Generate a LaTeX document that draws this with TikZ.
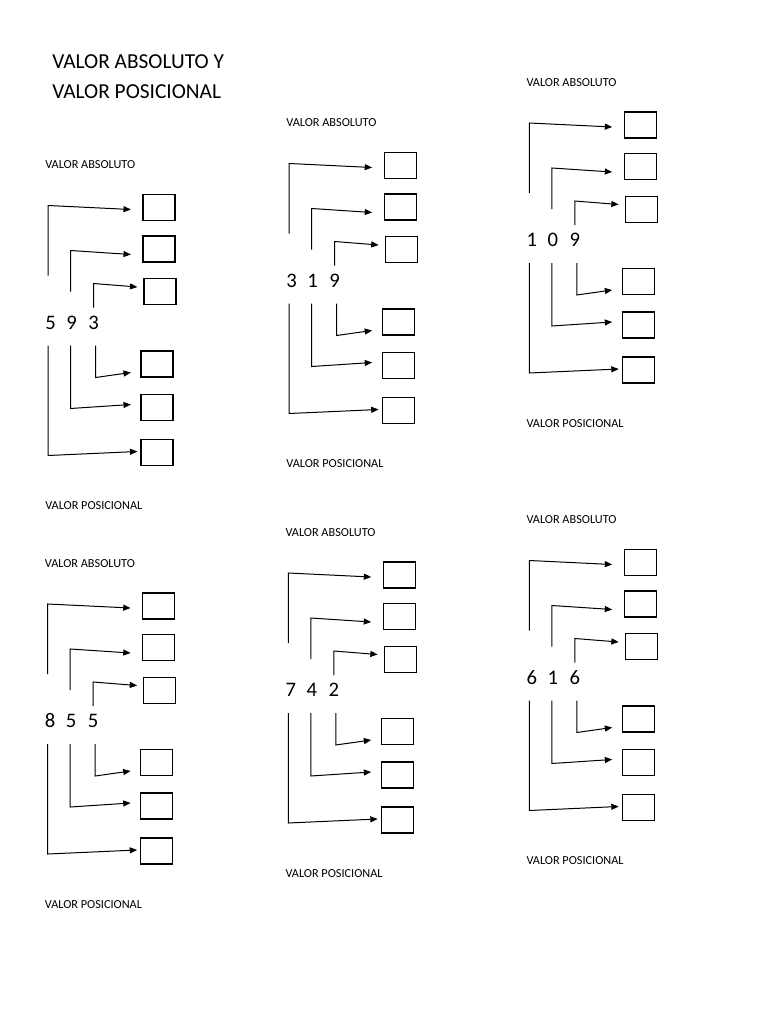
\documentclass[tikz,border=0pt]{standalone}
\usepackage{fontspec}
\setmainfont{Carlito}
\usetikzlibrary{calc,arrows.meta}
\tikzset{
  titulo/.style={anchor=base west, inner sep=0pt, font=\fontsize{16}{19}\selectfont},
  etiqueta/.style={anchor=base west, inner sep=0pt, font=\fontsize{9.2}{11}\selectfont},
  digito/.style={inner sep=0pt, font=\fontsize{15.5}{18}\selectfont},
  casilla/.style={draw, line width=0.95pt, minimum width=24pt, minimum height=19.5pt, inner sep=0pt},
  flecha/.style={-{Triangle[length=5.5pt,width=4.5pt]}, line width=0.75pt},
}
\begin{document}
\begin{tikzpicture}[x=0.75pt,y=-0.75pt]
\useasboundingbox (0,0) rectangle (768,1024);
% titulo
\node[titulo] (tit1) at (52,68.3) {VALOR ABSOLUTO Y};
\node[titulo] (tit2) at (52,98.3) {VALOR POSICIONAL};
% seis bloques: nombre / posicion de la primera cifra / cifras
\foreach \blk/\bx/\by/\da/\db/\dc in {a/50.5/322.5/5/9/3, b/291.7/280.5/3/1/9, c/531.8/240/1/0/9,
    d/50.2/721/8/5/5, e/290.8/690/7/4/2, f/531.8/677.5/6/1/6}{
  \node[digito] (\blk-d1) at (\bx,\by) {\da};
  \node[digito] (\blk-d2) at ($(\blk-d1)+(21,0)$) {\db};
  \node[digito] (\blk-d3) at ($(\blk-d1)+(43,0)$) {\dc};
  \node[etiqueta] (\blk-abs) at ($(\blk-d1)+(-5.5,-154)$) {VALOR ABSOLUTO};
  \node[etiqueta] (\blk-pos) at ($(\blk-d1)+(-5.5,187)$) {VALOR POSICIONAL};
  % casillas
  \node[casilla] (\blk-b1) at ($(\blk-d1)+(108.5,-115)$) {};
  \node[casilla] (\blk-b2) at ($(\blk-d1)+(108.5,-73.5)$) {};
  \node[casilla] (\blk-b3) at ($(\blk-d1)+(109.5,-30.75)$) {};
  \node[casilla] (\blk-b4) at ($(\blk-d1)+(106.5,41.5)$) {};
  \node[casilla] (\blk-b5) at ($(\blk-d1)+(106.5,85)$) {};
  \node[casilla] (\blk-b6) at ($(\blk-d1)+(106.5,130)$) {};
  % flechas de arriba
  \draw[flecha] ($(\blk-d1)+(-2.5,-47)$) -- ($(\blk-d1)+(-2.5,-117)$) -- ($(\blk-b1.west)+(-11.5,2)$);
  \draw[flecha] ($(\blk-d2)+(-1,-31)$) -- ($(\blk-d2)+(-1,-72)$) -- ($(\blk-b2.west)+(-11.5,5.5)$);
  \draw[flecha] ($(\blk-d3)+(0,-15)$) -- ($(\blk-d3)+(0,-39)$) -- ($(\blk-b3.west)+(-6,-4.75)$);
  % flechas de abajo
  \draw[flecha] ($(\blk-d3)+(2,23)$) -- ($(\blk-d3)+(2,55)$) -- ($(\blk-b4.west)+(-9.5,8.5)$);
  \draw[flecha] ($(\blk-d2)+(-1,23)$) -- ($(\blk-d2)+(-1,86)$) -- ($(\blk-b5.west)+(-9.5,-3)$);
  \draw[flecha] ($(\blk-d1)+(-2.5,23)$) -- ($(\blk-d1)+(-2.5,133)$) -- ($(\blk-b6.west)+(-3,-1)$);
}
\end{tikzpicture}
\end{document}
